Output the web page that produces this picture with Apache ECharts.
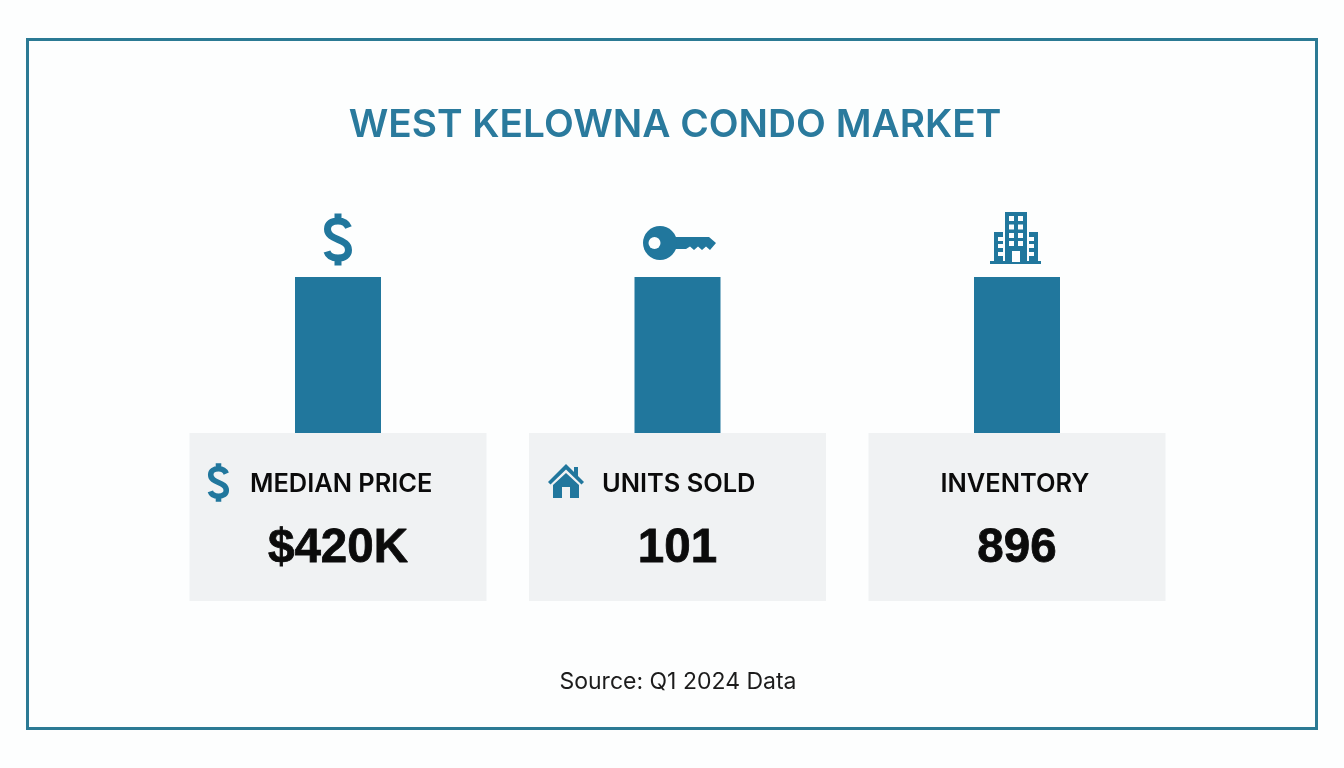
<!DOCTYPE html>
<html><head><meta charset="utf-8">
<style>html,body{margin:0;padding:0;background:#fdfefe}#c{width:1344px;height:768px}</style>
<script src="https://cdn.jsdelivr.net/npm/echarts@6/dist/echarts.min.js"></script>
</head><body><div id="c"></div>
<script>
const titleText = 'WEST KELOWNA CONDO MARKET';
const sourceText = 'Source: Q1 2024 Data';
const categories = ['MEDIAN PRICE', 'UNITS SOLD', 'INVENTORY'];
const valueLabels = ['$420K', '101', '896'];
// In the picture all three bars are drawn at the same height.
const barHeights = [1, 1, 1];

const BLUE = '#21779d', CARD = '#f0f2f3', BG = '#fdfefe', INK = '#0b0b0b';
const FONT = 'Inter, "Liberation Sans", sans-serif';

const registerPath = (name, d) => echarts.graphic.registerShape(name, echarts.graphic.extendPath(d));
registerPath('iconDollar', 'M10.5 -12 C8.5 -17 4.5 -18.5 0 -18.5 C-6.5 -18.5 -10.5 -15.5 -10.5 -10.5 C-10.5 -4.5 -5.5 -2.2 0 0 C5.5 2.2 10.5 4.5 10.5 10.5 C10.5 15.5 6.5 18.5 0 18.5 C-4.5 18.5 -9.5 17 -11 12 M0 -26 L0 -18.5 M0 18.5 L0 26');
registerPath('iconKeyShaft', 'M672 237 L709 237 L716 243 L710 250 L706 246.5 L702 250 L698 246.5 L694 250 L690 246.5 L686 249 L672 249 Z');
registerPath('iconHouse', 'M566 464 L584 482 L581.5 484.5 L566 469.5 L550.5 484.5 L548 482 Z M566 473 L579 485 L579 498 L570 498 L570 487 L562 487 L562 498 L553 498 L553 485 Z');

const chart = echarts.init(document.getElementById('c'), null, {renderer: 'canvas'});

chart.setOption({
  animation: false,
  backgroundColor: BG,
  title: {
    text: titleText, left: 670, top: 101, textAlign: 'center',
    textStyle: {fontFamily: FONT, fontSize: 38.8, fontWeight: 600, color: '#2a7a9d'}
  },
  grid: {left: 168.25, width: 1018.5, top: 277, height: 156},
  xAxis: {type: 'category', data: categories, show: false},
  yAxis: {type: 'value', min: 0, max: 1, show: false},
  series: [{type: 'bar', data: barHeights, barWidth: 86, itemStyle: {color: BLUE}, z: 5}]
});

const cx = categories.map((c, i) => chart.convertToPixel({xAxisIndex: 0}, i));
const shape = (type, s, fill, z) => ({type, shape: s, style: {fill}, z: z || 4, silent: true});
const rect = (x, y, w, h, fill, z) => shape('rect', {x, y, width: w, height: h}, fill, z);
const dollar = (ox, oy, k, lw) => ({
  type: 'iconDollar', z: 4, silent: true, x: ox, y: oy, scaleX: k, scaleY: k,
  style: {fill: 'none', stroke: BLUE, lineWidth: lw}
});

const elements = [
  {type: 'rect', shape: {x: 27.5, y: 39.5, width: 1289, height: 689}, style: {fill: 'none', stroke: '#2b7a94', lineWidth: 3}, z: 1, silent: true}
];
// cards and their texts
categories.forEach((c, i) => {
  elements.push(rect(cx[i] - 148.5, 433, 297, 168, CARD, 2));
  const leftText = {0: 250, 1: 602}[i];
  elements.push({
    type: 'text', z: 4, silent: true,
    style: {x: leftText !== undefined ? leftText : cx[i] - 2, y: 484, text: c, fontFamily: FONT, fontSize: 25.4, fontWeight: 600, fill: INK,
      align: leftText !== undefined ? 'left' : 'center', verticalAlign: 'middle'}
  });
  elements.push({
    type: 'text', z: 4, silent: true,
    style: {x: cx[i], y: 549, text: valueLabels[i], fontFamily: '"Liberation Sans", Arial, sans-serif', fontSize: 47.5, fontWeight: 700, fill: INK, stroke: INK, lineWidth: 0.8, align: 'center', verticalAlign: 'middle'}
  });
});
elements.push({
  type: 'text', z: 4, silent: true,
  style: {x: 678, y: 682, text: sourceText, fontFamily: FONT, fontSize: 23, fontWeight: 400, fill: '#1c1c1c', align: 'center', verticalAlign: 'middle'}
});

// top dollar icon, card dollar icon
elements.push(dollar(338, 239.5, 1, 7));
elements.push(dollar(218.5, 482.5, 0.74, 7.5));

// key icon
elements.push({type: 'iconKeyShaft', z: 4, silent: true, style: {fill: BLUE}});
elements.push(shape('circle', {cx: 660, cy: 243, r: 17}, BLUE));
elements.push(shape('circle', {cx: 654.5, cy: 243, r: 6}, BG, 5));

// building icon
elements.push(rect(1005, 212, 22, 50, BLUE));
elements.push(rect(994, 232, 9, 30, BLUE));
elements.push(rect(1029, 232, 9, 30, BLUE));
elements.push(rect(990, 261, 51, 3, BLUE));
[216, 224.5, 233, 241].forEach(y => {
  elements.push(rect(1009, y, 5, 5, BG, 5));
  elements.push(rect(1018, y, 5, 5, BG, 5));
});
elements.push(rect(1012, 251, 8, 11, BG, 5));
[237, 244, 252].forEach(y => {
  elements.push(rect(998, y, 5, 4, BG, 5));
  elements.push(rect(1029, y, 5, 4, BG, 5));
});

// house icon
elements.push(rect(574, 467, 4, 9, BLUE));
elements.push({type: 'iconHouse', z: 4, silent: true, style: {fill: BLUE}});

chart.setOption({graphic: {elements}});
</script></body></html>
